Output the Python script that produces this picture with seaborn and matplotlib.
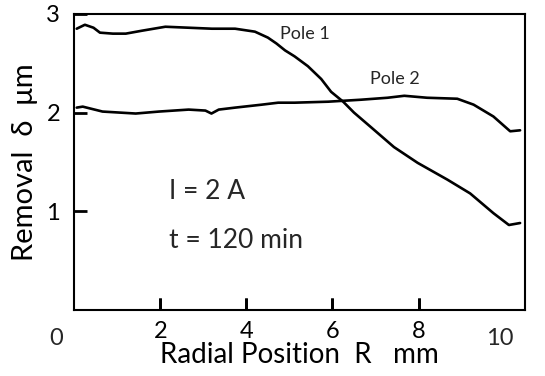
import numpy as np
import pandas as pd
import seaborn as sns
import matplotlib
matplotlib.use("Agg")
import matplotlib.pyplot as plt

# curves (R in mm, removal in um)
pole1_r = [0.06, 0.25, 0.45, 0.6, 0.9, 1.2, 1.58, 2.12, 2.66, 3.2, 3.74, 4.2, 4.5,
           4.7, 4.9, 5.12, 5.43, 5.74, 5.97, 6.25, 6.5, 6.9, 7.43, 7.98, 8.67,
           9.2, 9.74, 10.1, 10.36]
pole1_d = [2.85, 2.89, 2.86, 2.81, 2.8, 2.8, 2.83, 2.87, 2.86, 2.85, 2.85, 2.82, 2.76,
           2.7, 2.63, 2.57, 2.47, 2.34, 2.21, 2.11, 2.0, 1.85, 1.65, 1.49, 1.32,
           1.18, 0.98, 0.86, 0.88]

pole2_r = [0.06, 0.2, 0.66, 1.43, 1.97, 2.66, 3.05, 3.19, 3.36, 3.74, 4.36, 4.74,
           5.12, 5.9, 6.66, 7.28, 7.67, 8.2, 8.9, 9.28, 9.74, 10.13, 10.36]
pole2_d = [2.05, 2.06, 2.01, 1.99, 2.01, 2.03, 2.02, 1.99, 2.03, 2.05, 2.08, 2.1,
           2.1, 2.11, 2.13, 2.15, 2.17, 2.15, 2.14, 2.08, 1.96, 1.81, 1.82]

x_ticks = [2, 4, 6, 8]
y_ticks = [1, 2, 3]

df = pd.concat([
    pd.DataFrame({"R": pole1_r, "d": pole1_d, "pole": "Pole 1"}),
    pd.DataFrame({"R": pole2_r, "d": pole2_d, "pole": "Pole 2"}),
])

sns.set_theme(style="ticks")
plt.rcParams["font.family"] = ["Lato", "DejaVu Sans"]

fig = plt.figure(figsize=(5.45, 3.76), dpi=100)
ax = fig.add_axes([0.136, 0.176, 0.827, 0.787])

sns.lineplot(data=df, x="R", y="d", units="pole", estimator=None, sort=False,
             color="black", lw=1.9, ax=ax)

ax.set_xlim(0, 10.47)
ax.set_ylim(0, 3)

for s in ax.spines.values():
    s.set_linewidth(1.5)
    s.set_color("black")

# inward tick marks at 2..8 (x) and 1, 2 (y); labels set separately
ax.set_xticks(x_ticks)
ax.set_xticklabels([str(v) for v in x_ticks])
ax.set_yticks(y_ticks)
ax.set_yticklabels([str(v) for v in y_ticks])
ax.tick_params(axis="both", which="major", direction="in", length=9, width=2,
               color="black", labelcolor="black", labelsize=17,
               bottom=True, left=True, top=False, right=False)
ax.tick_params(axis="x", pad=8)
ax.tick_params(axis="y", pad=10)
# the x marks did not show up reliably, so draw them on the axis transform too
ax.vlines(x_ticks, 0, 0.04, transform=ax.get_xaxis_transform(), color="black",
          lw=2, clip_on=False)
ax.text(-0.42, -0.06, "0", transform=ax.get_xaxis_transform(), ha="center",
        va="top", fontsize=17)
ax.text(9.88, -0.06, "10", transform=ax.get_xaxis_transform(), ha="center",
        va="top", fontsize=17)

ax.set_xlabel("Radial Position  R   mm", fontsize=20, labelpad=0, color="black")
ax.set_ylabel("Removal  δ  μm", fontsize=21, labelpad=6, color="black")

ax.text(5.35, 2.80, "Pole 1", fontsize=13, ha="center", va="center")
ax.text(7.45, 2.34, "Pole 2", fontsize=13, ha="center", va="center")
ax.text(2.2, 1.20, "I = 2 A", fontsize=19, va="center")
ax.text(2.2, 0.70, "t = 120 min", fontsize=19, va="center")

fig.savefig("out.png", dpi=100)
